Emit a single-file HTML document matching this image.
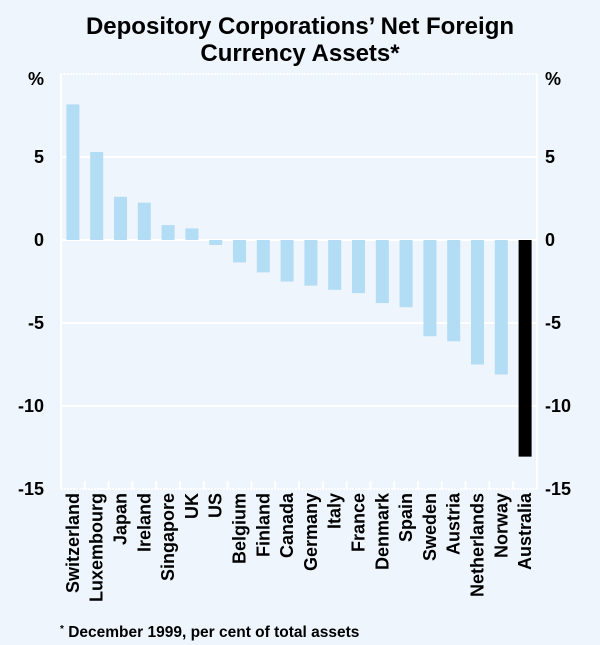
<!DOCTYPE html>
<html><head><meta charset="utf-8"><style>
body{margin:0;background:#eef5fc;}
svg{display:block;font-family:"Liberation Sans",Arial,sans-serif;}
</style></head><body>
<svg id="c" width="600" height="645" viewBox="0 0 600 645" xmlns="http://www.w3.org/2000/svg">
<rect width="600" height="645" fill="#eef5fc"/>
<text x="300" y="34" text-anchor="middle" font-size="24" font-weight="bold">Depository Corporations’ Net Foreign</text>
<text x="300" y="61" text-anchor="middle" font-size="24" font-weight="bold">Currency Assets*</text>
<g id="grid"></g><g id="bars"></g><g id="axes"></g>
<text x="60" y="637" font-size="15.5" font-weight="bold"><tspan font-size="10" dy="-5">*</tspan><tspan dy="5"> December 1999, per cent of total assets</tspan></text>
</svg>
<script>
const categories=["Switzerland","Luxembourg","Japan","Ireland","Singapore","UK","US","Belgium","Finland","Canada","Germany","Italy","France","Denmark","Spain","Sweden","Austria","Netherlands","Norway","Australia"];
const values=[8.17,5.3,2.6,2.25,0.9,0.7,-0.3,-1.35,-1.95,-2.5,-2.75,-3.0,-3.2,-3.8,-4.05,-5.8,-6.1,-7.5,-8.1,-13.05];
const yTicks=[10,5,0,-5,-10,-15];
const yTickLabels=["%","5","0","-5","-10","-15"];
const NS="http://www.w3.org/2000/svg";
const L=61,R=537,T=74,B=489,ymax=10,ymin=-15;
const y=v=>T+(ymax-v)/(ymax-ymin)*(B-T);
const bw=(R-L)/categories.length;
const x=i=>L+bw*(i+0.5);
function mk(tag,at,parent){const e=document.createElementNS(NS,tag);for(const k in at)e.setAttribute(k,at[k]);document.getElementById(parent).appendChild(e);return e;}
yTicks.forEach((t,i)=>{
  const g=mk('line',{x1:L,x2:R,y1:y(t),y2:y(t),stroke:'#ffffff','stroke-width':2,'stroke-dasharray':i==0||i==5?'2,1':'none'},'grid');
  
  
  const ty=i==0?y(t)+11:y(t)+6;
  const a=mk('text',{x:L-17,y:ty,'text-anchor':'end','font-size':18,'font-weight':'bold'},'axes');a.textContent=yTickLabels[i];
  
  
  const b=mk('text',{x:R+8,y:ty,'text-anchor':'start','font-size':18,'font-weight':'bold'},'axes');b.textContent=yTickLabels[i];
  
  
});
['L','R'].forEach(s=>{const xx=s=='L'?L:R;const l=mk('line',{x1:xx,x2:xx,y1:T,y2:B,stroke:'#ffffff','stroke-width':2},'grid');

});
categories.forEach((c,i)=>{
  const v=values[i];
  const r=mk('rect',{x:x(i)-6.5,width:13,y:Math.min(y(v),y(0)),height:Math.abs(y(v)-y(0)),fill:c==="Australia"?'#000000':'#b3dcf5'},'bars');
  
  
  if(i>0){const tk=mk('line',{x1:L+bw*i,x2:L+bw*i,y1:B-8,y2:B,stroke:'#ffffff','stroke-width':2},'grid');
  
  }
  const t=mk('text',{transform:`translate(${x(i)+6},${B+4}) rotate(-90)`,'text-anchor':'end','font-size':18,'font-weight':'bold'},'axes');
  t.textContent=c;
  
  
});
</script>
</body></html>
